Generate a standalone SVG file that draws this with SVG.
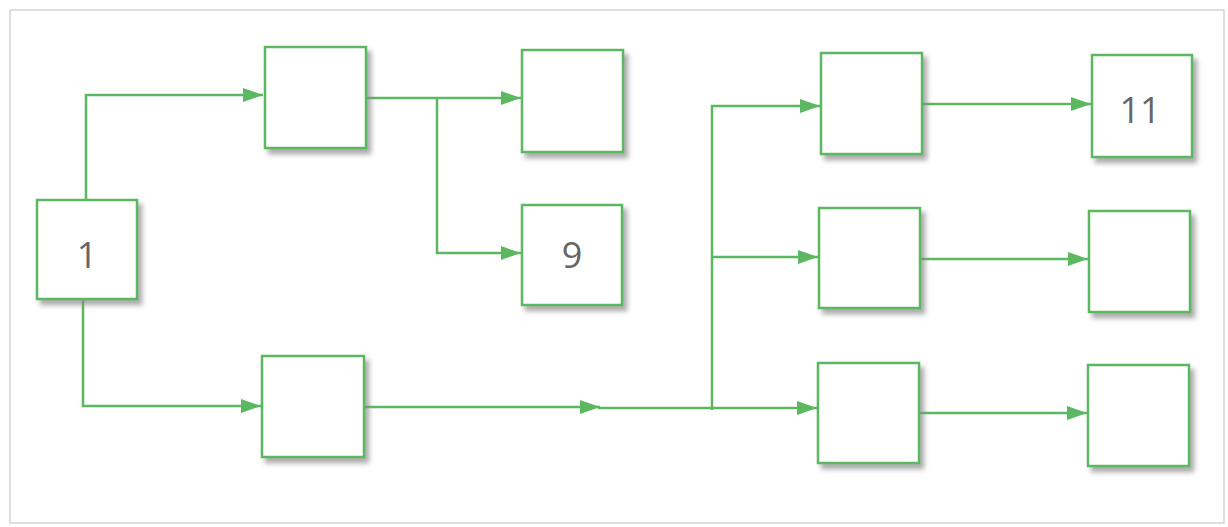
<svg xmlns="http://www.w3.org/2000/svg" width="1228" height="527" viewBox="0 0 1228 527">
<style>
.box{fill:#fff;stroke:#5cb860;stroke-width:2.5;filter:url(#sh)}
.ln{fill:none;stroke:#5cb860;stroke-width:2.5}
.lbl{font-family:"Open Sans","Liberation Sans",sans-serif;font-size:36px;fill:#666;text-anchor:middle}
</style>
<defs>
<filter id="sh" x="-20%" y="-20%" width="150%" height="150%">
<feDropShadow dx="4" dy="5" stdDeviation="2.5" flood-color="#888" flood-opacity="0.7"/>
</filter>
<marker id="ah" viewBox="0 0 20 14" refX="20" refY="7" markerWidth="20" markerHeight="14" markerUnits="userSpaceOnUse" orient="auto">
<path d="M0,0 L20,7 L0,14 Z" fill="#5cb860"/>
</marker>
</defs>
<rect x="0" y="0" width="1228" height="527" fill="#fff"/>
<rect x="10" y="10" width="1214" height="513" fill="#fff" stroke="#d4d4d4" stroke-width="1.5"/>
<g id="connectors">
<path class="ln" d="M86,200 V95 H263" marker-end="url(#ah)"/>
<path class="ln" d="M83,300 V406 H261" marker-end="url(#ah)"/>
<path class="ln" d="M366,98 H521" marker-end="url(#ah)"/>
<path class="ln" d="M437,98 V253 H521" marker-end="url(#ah)"/>
<path class="ln" d="M364,407 H600" marker-end="url(#ah)"/>
<path class="ln" d="M598,408 H817" marker-end="url(#ah)"/>
<path class="ln" d="M712,410 V106 H820" marker-end="url(#ah)"/>
<path class="ln" d="M712,257 H818" marker-end="url(#ah)"/>
<path class="ln" d="M922,104 H1091" marker-end="url(#ah)"/>
<path class="ln" d="M920,259 H1088" marker-end="url(#ah)"/>
<path class="ln" d="M919,413 H1087" marker-end="url(#ah)"/>
</g>
<g id="n1"><rect class="box" x="37" y="200" width="100" height="99"/><text class="lbl" x="87" y="268">1</text></g>
<g id="nA"><rect class="box" x="265" y="47" width="101" height="101"/></g>
<g id="nB"><rect class="box" x="522" y="50" width="101" height="102"/></g>
<g id="n9"><rect class="box" x="522" y="205" width="100" height="100"/><text class="lbl" x="572" y="268">9</text></g>
<g id="nC"><rect class="box" x="262" y="356" width="102" height="101"/></g>
<g id="nD"><rect class="box" x="821" y="53" width="101" height="101"/></g>
<g id="nE"><rect class="box" x="819" y="208" width="101" height="100"/></g>
<g id="nF"><rect class="box" x="818" y="363" width="101" height="100"/></g>
<g id="n11"><rect class="box" x="1092" y="55" width="100" height="102"/><text class="lbl" x="1140" y="123">11</text></g>
<g id="nG"><rect class="box" x="1089" y="211" width="101" height="101"/></g>
<g id="nH"><rect class="box" x="1088" y="365" width="101" height="101"/></g>
</svg>
